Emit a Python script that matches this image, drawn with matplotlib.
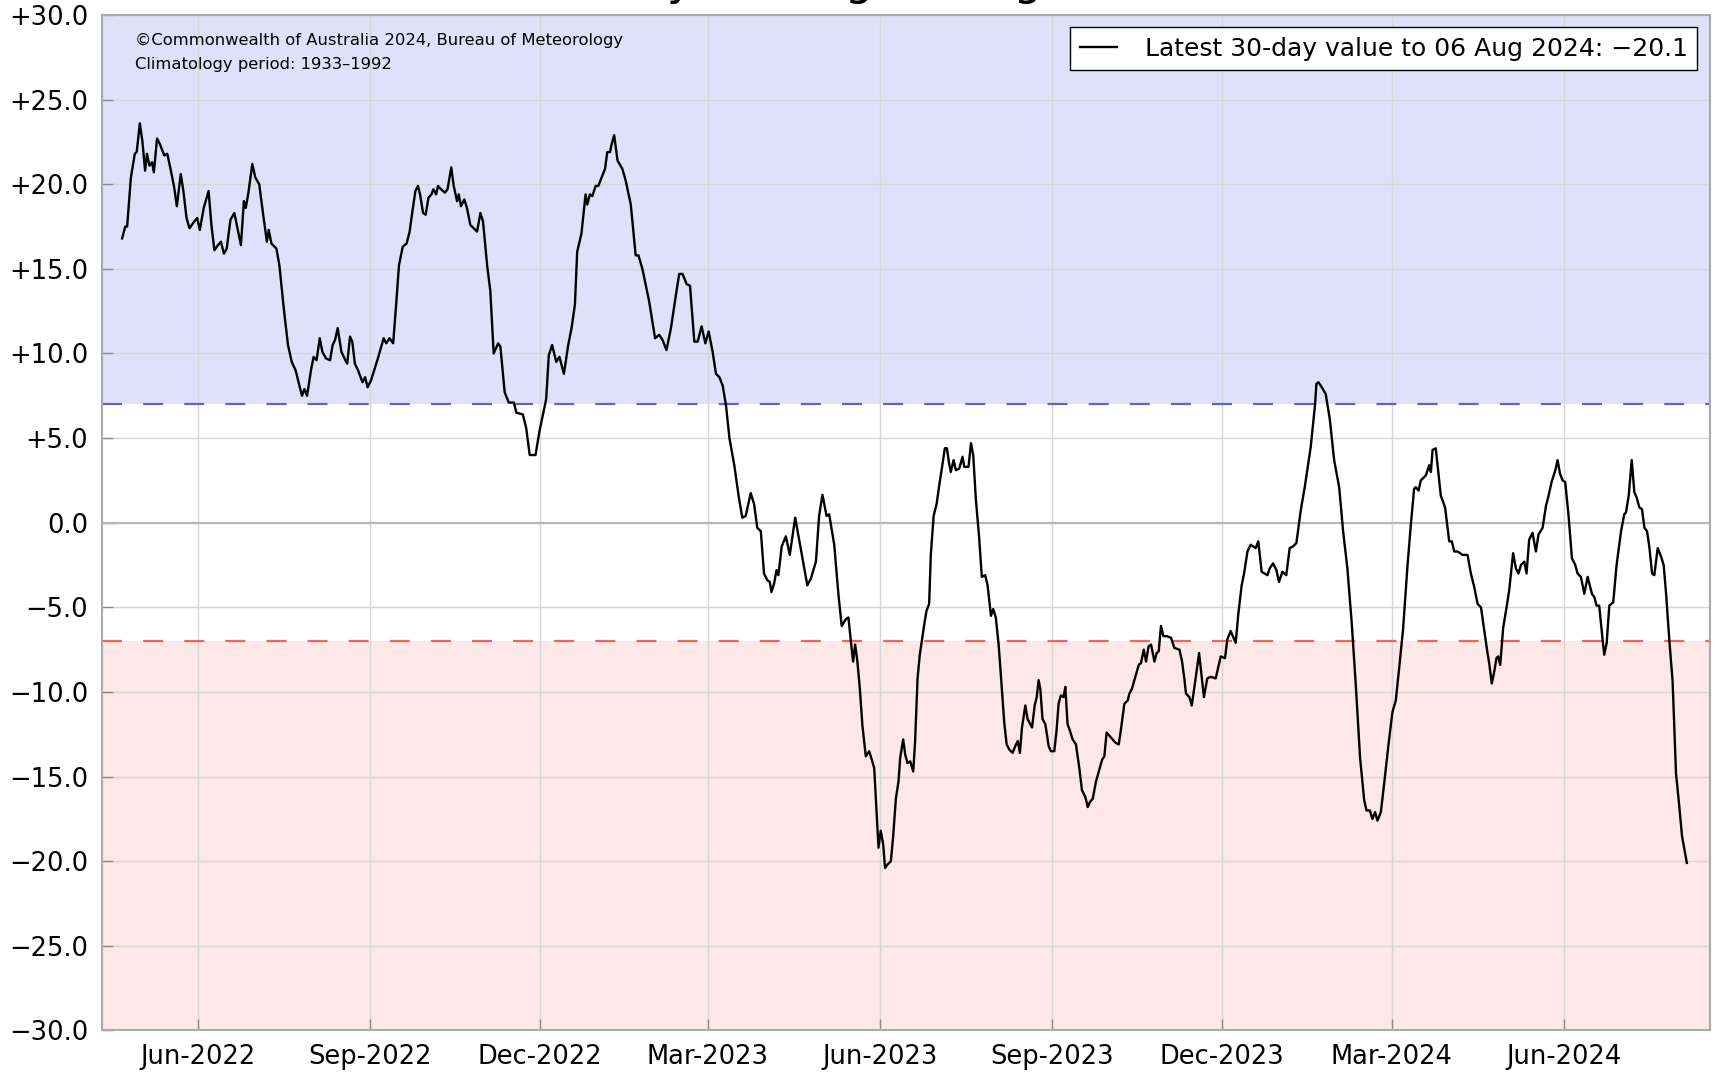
import pandas as pd
import numpy as np
import matplotlib
matplotlib.use("Agg")
import matplotlib.pyplot as plt
import matplotlib.dates as mdates
from matplotlib.ticker import FuncFormatter, MultipleLocator

# 30-day SOI. day offsets are counted from 1 Jun 2022
base_date = "2022-06-01"
days = [
    -40.6, -38.9, -37.9, -35.9, -33.8, -32.8, -31.1, -29.7, -28.3, -27.3,
    -26.0, -24.6, -23.6, -21.9, -20.5, -19.1, -18.0, -16.4, -14.3, -12.7,
    -11.3, -9.2, -7.8, -6.1, -4.5, -2.0, -0.4, 1.0, 3.1, 5.7,
    7.2, 8.8, 10.7, 12.3, 13.9, 15.4, 17.4, 19.5, 21.5, 23.0,
    24.6, 25.6, 27.0, 29.1, 30.7, 32.8, 34.8, 36.9, 37.9, 39.3,
    42.0, 43.6, 46.1, 48.2, 50.2, 52.3, 54.3, 55.7, 57.0, 58.4,
    60.5, 61.9, 63.5, 65.2, 66.6, 68.6, 70.7, 72.1, 73.4, 74.8,
    76.8, 78.9, 79.9, 81.4, 82.6, 84.0, 85.7, 87.1, 88.1, 89.5,
    90.8, 92.6, 94.3, 96.3, 99.4, 100.8, 102.5, 104.5, 106.1, 107.6,
    109.6, 111.7, 113.3, 114.8, 116.4, 117.8, 118.9, 120.5, 121.9, 123.4,
    125.0, 126.0, 127.5, 128.5, 130.1, 132.2, 133.6,
    135.6, 136.9, 138.7, 139.6, 140.8, 142.6, 144.0, 145.8, 149.4, 151.2,
    152.6, 154.8, 156.5, 158.3, 160.7, 161.9, 164.2, 166.4, 169.1, 170.5,
    173.9, 175.7, 177.6, 180.7, 182.8, 185.1, 186.4, 187.8, 189.6, 191.8,
    193.5, 195.9, 198.2, 200.0, 201.8, 203.0, 205.3, 207.5, 208.4, 209.8,
    211.1, 212.9, 214.3, 216.1, 217.9, 219.1, 220.6, 221.3, 222.8, 224.6,
    227.2, 229.0, 231.7, 234.3, 235.8, 237.9, 241.5, 244.7, 246.9, 248.7,
    250.8, 253.2, 255.5, 257.6, 259.4, 261.6, 263.4, 265.7, 267.5, 269.6,
    271.6, 273.4, 275.5, 277.3, 279.1, 280.9, 282.7, 284.5, 287.1,
    289.6, 291.4, 293.2, 295.9, 297.7, 299.4, 301.3, 303.0, 304.8, 306.1,
    307.0, 308.4, 309.7, 310.7, 312.5, 314.7, 316.8, 319.7, 321.8, 323.6,
    326.2, 328.1, 330.8, 332.5, 334.3, 336.5, 337.9, 340.6,
    342.9, 344.6, 346.8, 348.2, 349.5, 350.7, 351.8, 353.0, 354.3, 355.7,
    357.5, 359.3, 360.7, 362.0, 363.2, 364.3, 365.5, 366.8, 367.8, 369.1,
    370.9, 372.1, 373.6, 375.0, 375.9, 377.5, 378.6, 379.8, 381.3, 382.9,
    383.9, 385.2, 386.4, 388.8, 390.0, 391.4, 392.3, 393.8, 395.4, 396.8,
    398.2, 399.8, 400.9, 402.1, 403.0, 404.5, 405.7, 407.5, 409.3, 410.2,
    412.5, 413.8, 415.0, 416.4, 418.2, 419.6, 421.4, 422.7, 424.5, 425.7,
    427.1, 428.6, 429.8, 431.6, 432.9, 434.3, 436.1, 437.5, 438.8, 440.0,
    441.1, 441.8, 442.9, 444.1, 446.5, 447.9, 449.0, 450.0, 450.9, 452.1,
    453.6, 455.4, 456.6, 458.4, 459.6, 460.7, 461.9, 463.4, 464.3, 465.5,
    466.8, 468.2, 470.0, 471.8, 473.2, 475.0, 476.3, 477.5, 479.0, 480.7,
    482.2, 484.0, 485.2, 486.4, 488.8, 491.1, 492.9, 494.1, 495.9, 497.7,
    498.6, 500.0, 501.8, 503.6, 504.8, 506.3, 507.5, 508.9, 510.2, 512.0,
    513.2, 514.3, 515.5, 516.8, 518.6, 520.9, 522.7, 525.4, 526.8, 528.0,
    528.9, 530.7, 532.0, 533.8,
    535.9, 538.5, 540.3, 542.1, 544.8, 547.5, 549.8, 551.0, 552.8, 555.5,
    556.9, 558.7, 560.0, 561.8, 563.5, 566.2, 567.6, 569.4, 572.5, 573.7,
    575.5, 577.3, 578.7, 580.5, 582.6, 584.4, 586.2, 588.0, 590.3, 592.6,
    595.7, 598.0, 598.7, 599.8, 601.6, 603.7, 605.9, 608.2, 610.9, 613.0,
    615.3, 617.6, 619.8, 622.1, 624.3, 625.5, 627.3, 628.7, 630.1, 631.4,
    633.2, 635.0, 637.3, 639.4, 641.2, 643.0, 645.1, 647.5, 649.2, 651.0,
    651.9, 653.4, 654.6, 657.3, 659.1, 660.0, 660.9, 662.6, 665.3, 667.6,
    669.8, 671.2, 672.5, 674.3, 676.9, 679.6, 681.4, 683.2, 685.0, 686.8,
    688.5, 690.3, 691.2, 692.6, 693.9, 695.1, 696.0, 697.1, 698.7, 700.5,
    701.9, 704.0, 705.5, 706.9, 708.2, 710.0, 711.2, 712.6, 714.4, 716.2,
    717.6, 719.8, 721.6, 723.0, 724.6, 726.6, 727.8, 729.1, 730.5, 731.9,
    733.7, 735.5, 737.3, 738.5, 740.3, 742.1, 743.9, 746.2, 747.5, 748.7,
    750.1, 751.9, 752.8, 754.1, 755.5, 757.6, 759.4, 761.8, 763.5, 764.4,
    765.9, 767.5, 768.9, 770.1, 771.6, 773.0, 774.3, 775.7, 776.9, 778.4,
    779.6, 781.4, 783.2, 784.6, 785.9, 787.6, 789.4, 791.2, 793.0, 794.4,
    797.0,
]
soi_30d = [
    16.8, 17.5, 17.5, 20.4, 21.8, 21.9, 23.6, 22.5, 20.8, 21.8,
    21.1, 21.3, 20.7, 22.7, 22.4, 22.0, 21.7, 21.8, 20.7, 19.8,
    18.7, 20.6, 19.6, 18.0, 17.4, 17.8, 18.0, 17.3, 18.6, 19.6,
    17.6, 16.1, 16.4, 16.6, 15.9, 16.2, 17.9, 18.3, 17.2, 16.4,
    19.0, 18.6, 19.5, 21.2, 20.4, 20.0, 18.3, 16.6, 17.3, 16.5,
    16.2, 15.2, 12.5, 10.5, 9.5, 9.0, 8.1, 7.5, 7.9, 7.5,
    9.0, 9.8, 9.6, 10.9, 10.1, 9.7, 9.6, 10.5, 10.8, 11.5,
    10.1, 9.6, 9.4, 11.0, 10.7, 9.4, 9.0, 8.6, 8.3, 8.6,
    8.0, 8.4, 9.0, 9.7, 10.9, 10.6, 10.9, 10.6, 12.9, 15.2,
    16.3, 16.5, 17.2, 18.4, 19.6, 19.9, 19.4, 18.3, 18.2, 19.2,
    19.4, 19.7, 19.4, 19.9, 19.7, 19.5, 19.7,
    21.0, 19.9, 19.0, 19.4, 18.7, 19.1, 18.6, 17.6, 17.2, 18.3,
    17.8, 15.2, 13.7, 10.0, 10.6, 10.4, 7.7, 7.1, 7.1, 6.5,
    6.4, 5.6, 4.0, 4.0, 5.4, 6.6, 7.3, 9.9, 10.5, 9.5,
    9.8, 8.8, 10.5, 11.5, 12.9, 16.0, 17.1, 19.4, 18.8, 19.4,
    19.3, 19.9, 19.9, 20.4, 20.9, 21.9, 21.9, 22.3, 22.9, 21.4,
    20.9, 20.2, 18.8, 15.8, 15.8, 15.0, 13.1, 10.9, 11.1, 10.8,
    10.2, 11.5, 13.2, 14.7, 14.7, 14.1, 14.0, 10.7, 10.7, 11.6,
    10.6, 11.3, 10.1, 8.8, 8.6, 8.1, 6.9, 5.0, 3.4,
    1.45, 0.3, 0.4, 1.75, 1.1, -0.3, -0.5, -3.0, -3.4, -3.5,
    -4.1, -3.6, -2.8, -3.1, -1.4, -0.8, -1.9, 0.3, -1.0, -2.1,
    -3.7, -3.3, -2.3, 0.4, 1.65, 0.4, 0.5, -1.3,
    -4.3, -6.1, -5.7, -5.6, -7.0, -8.2, -7.2, -8.2, -9.8, -12.0,
    -13.8, -13.5, -14.0, -14.5, -16.9, -19.2, -18.2, -19.0, -20.4, -20.2,
    -20.0, -18.6, -16.3, -15.3, -13.9, -12.8, -13.7, -14.2, -14.1, -14.7,
    -12.9, -9.2, -7.8, -6.0, -5.2, -4.8, -1.9, 0.4, 1.1, 2.2,
    3.2, 4.4, 4.4, 3.5, 3.0, 3.7, 3.1, 3.2, 3.9, 3.3,
    3.3, 4.7, 4.0, 1.4, -0.9, -3.2, -3.1, -3.7, -5.5, -5.1,
    -5.6, -7.2, -9.0, -11.8, -13.1, -13.4, -13.6, -13.2, -12.9, -13.6,
    -12.1, -11.6, -10.8, -11.6, -12.1, -10.8, -10.3, -9.3, -9.8, -11.6,
    -11.9, -13.2, -13.5, -13.5, -12.3, -10.7, -10.2, -10.3, -9.7, -11.9,
    -12.3, -12.8, -13.1, -14.5, -15.8, -16.2, -16.8, -16.5, -16.3, -15.3,
    -14.7, -14.0, -13.8, -12.4, -12.7, -13.0, -13.1, -12.2, -10.7, -10.5,
    -10.1, -9.8, -9.1, -8.4, -8.3, -7.5, -8.2, -7.3, -7.2, -8.2,
    -7.7, -7.6, -6.1, -6.7, -6.7, -6.8, -7.4, -7.5, -8.2, -9.2,
    -10.1, -10.3, -10.8, -9.4,
    -7.7, -10.3, -9.2, -9.1, -9.2, -7.9, -8.0, -6.9, -6.4, -7.1,
    -5.4, -3.7, -3.0, -1.7, -1.3, -1.5, -1.1, -2.9, -3.1, -2.7,
    -2.4, -2.8, -3.5, -2.9, -3.1, -1.5, -1.4, -1.2, 0.7, 2.2,
    4.5, 7.0, 8.2, 8.3, 8.0, 7.6, 6.1, 3.7, 2.1, -0.5,
    -2.7, -5.9, -9.6, -13.9, -16.4, -17.0, -17.0, -17.5, -17.1, -17.6,
    -17.1, -15.4, -13.1, -11.2, -10.5, -8.6, -6.3, -2.5, -0.2, 2.0,
    2.1, 1.9, 2.5, 2.8, 3.4, 3.0, 4.3, 4.4, 1.6, 0.9,
    -1.1, -1.1, -1.7, -1.7, -1.9, -1.9, -3.0, -3.8, -4.8, -5.0,
    -6.3, -7.7, -8.3, -9.5, -8.8, -8.0, -7.9, -8.4, -6.2, -5.0,
    -4.0, -1.8, -2.7, -3.0, -2.5, -2.3, -3.0, -1.0, -0.6, -1.7,
    -0.7, -0.3, 1.0, 1.6, 2.4, 3.1, 3.7, 2.9, 2.5, 2.4,
    0.4, -2.1, -2.5, -3.0, -3.2, -4.2, -3.2, -4.2, -4.4, -4.9,
    -4.9, -6.9, -7.8, -7.1, -4.9, -4.7, -2.5, -0.5, 0.5, 0.6,
    1.6, 3.7, 1.8, 1.5, 0.9, 0.8, -0.3, -0.5, -1.4, -3.0,
    -3.1, -1.5, -2.0, -2.5, -4.2, -6.9, -9.4, -14.8, -16.8, -18.5,
    -20.1,
]
el_nino_limit = -7.0
la_nina_limit = 7.0
latest_label = "Latest 30-day value to 06 Aug 2024: \u221220.1"
title_text = "30-day moving average SOI"
note_lines = ["\u00a9Commonwealth of Australia 2024, Bureau of Meteorology",
              "Climatology period: 1933\u20131992"]

dates = pd.Timestamp(base_date) + pd.to_timedelta(days, unit="D")

def soi_fmt(v, pos):
    if abs(v) < 1e-9:
        return "0.0"
    if v > 0:
        return "+%.1f" % v
    return "\u2212%.1f" % abs(v)

fig = plt.figure(figsize=(17.16, 10.78), dpi=100)
ax = fig.add_axes([0.0594, 0.0441, 0.9371, 0.942])

# shaded la nina / el nino zones
ax.axhspan(la_nina_limit, 30, color="#e0e0fb", zorder=0, lw=0)
ax.axhspan(-30, el_nino_limit, color="#fde7e7", zorder=0, lw=0)
ax.axhline(la_nina_limit, color="#6262c4", lw=1.6, ls=(0, (9, 9.5)), zorder=1.5)
ax.axhline(el_nino_limit, color="#f06464", lw=1.6, ls=(0, (9, 9.5)), zorder=1.5)
ax.axhline(0, color="#b8b8b8", lw=1.6, zorder=1)

ax.plot(dates, soi_30d, color="black", lw=1.7, zorder=3, label=latest_label)

ax.set_ylim(-30, 30)
ax.set_xlim(pd.Timestamp(base_date) - pd.Timedelta(days=51.4),
            pd.Timestamp(base_date) + pd.Timedelta(days=809.4))
ax.yaxis.set_major_locator(MultipleLocator(5))
ax.yaxis.set_major_formatter(FuncFormatter(soi_fmt))
ax.xaxis.set_major_locator(mdates.MonthLocator(bymonth=(3, 6, 9, 12)))
ax.xaxis.set_major_formatter(mdates.DateFormatter("%b-%Y"))

ax.set_axisbelow(True)
ax.grid(True, color="#d6d6d6", lw=1.0)
ax.tick_params(axis="both", direction="in", length=8, width=1, color="#8a8a8a",
               labelsize=18.5)
ax.tick_params(axis="y", pad=10)
ax.tick_params(axis="x", pad=10)
for s in ax.spines.values():
    s.set_color("#aaaaaa")
    s.set_linewidth(1.5)

leg = ax.legend(loc="upper right", fontsize=18, handlelength=1.5,
                handletextpad=1.1, borderpad=0.38, borderaxespad=0.5,
                fancybox=False, framealpha=1)
leg.get_frame().set_edgecolor("black")
leg.get_frame().set_linewidth(1.0)

ax.text(0.0205, 0.970, note_lines[0], transform=ax.transAxes, fontsize=11.8,
        va="baseline")
ax.text(0.0205, 0.9465, note_lines[1], transform=ax.transAxes, fontsize=11.8,
        va="baseline")

# title sits above the canvas, only the descenders show
fig.text(0.495, 1.005, title_text, fontsize=32, ha="center", va="baseline")

fig.savefig("out.png", dpi=100)
